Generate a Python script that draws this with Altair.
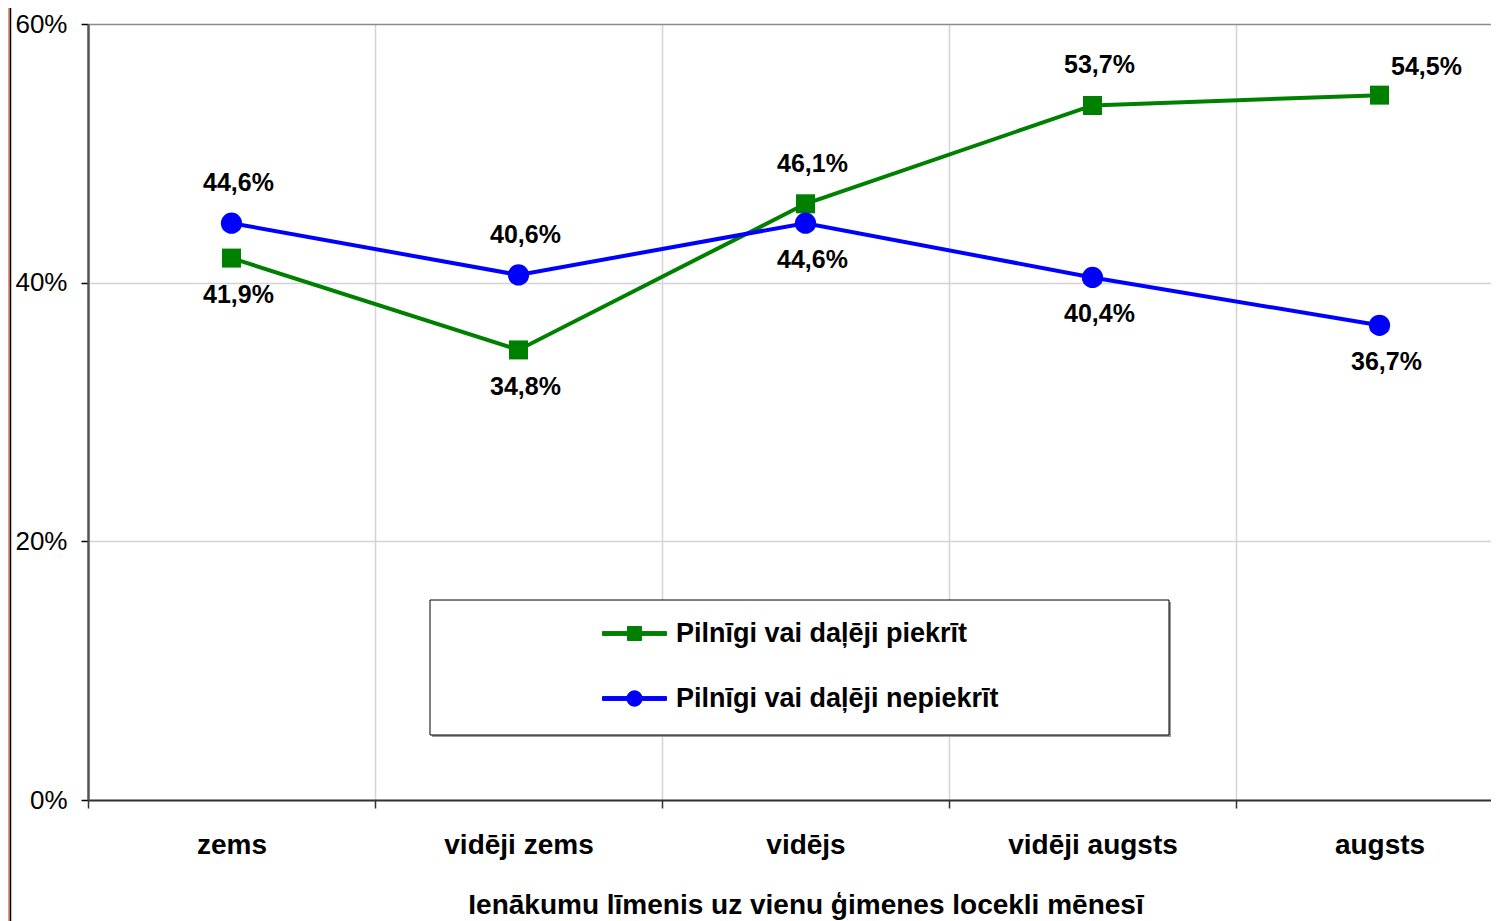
import math
import altair as alt
import pandas as pd

# ---------------- data ----------------
categories = ["zems", "vidēji zems", "vidējs", "vidēji augsts", "augsts"]
series_names = ["Pilnīgi vai daļēji piekrīt", "Pilnīgi vai daļēji nepiekrīt"]
agree = [41.9, 34.8, 46.1, 53.7, 54.5]
disagree = [44.6, 40.6, 44.6, 40.4, 36.7]
agree_label_side = ["below", "below", "above", "above", "above right"]
disagree_label_side = ["above", "above", "below", "below", "below"]
y_ticks = [0, 20, 40, 60]
x_title = "Ienākumu līmenis uz vienu ģimenes locekli mēnesī"
series_colors = ["#008000", "#0000ff"]

rows = []
for name, vals, sides in [
    (series_names[0], agree, agree_label_side),
    (series_names[1], disagree, disagree_label_side),
]:
    for cat, v, sd in zip(categories, vals, sides):
        rows.append({"category": cat, "series": name, "value": v, "side": sd})
df = pd.DataFrame(rows)

FONT = "Liberation Sans"

# legend symbols: a line with the marker in its middle (unit-square paths)
bar_path = "M-1,-0.06L1,-0.06L1,0.06L-1,0.06Z"
sq_path = bar_path + "M-0.22,-0.22L0.22,-0.22L0.22,0.22L-0.22,0.22Z"
circle_pts = [(0.24 * math.cos(2 * math.pi * k / 24), 0.24 * math.sin(2 * math.pi * k / 24)) for k in range(24)]
ci_path = bar_path + "M" + "L".join(f"{px:.3f},{py:.3f}" for px, py in circle_pts) + "Z"


def make_legend():
    return alt.Legend(
        title=None, orient="none", legendX=514, legendY=577,
        padding=0, rowPadding=19, symbolOffset=0, labelOffset=9,
        symbolSize=4096, symbolStrokeWidth=1, symbolOpacity=1,
        labelFont=FONT, labelFontSize=27, labelFontWeight="bold", labelColor="black",
        labelLimit=700,
    )


x_enc = alt.X(
    "category:N",
    sort=categories,
    scale=alt.Scale(type="band", domain=categories, range=[0, 1435],
                    paddingInner=0, paddingOuter=0),
    axis=alt.Axis(
        title=x_title, tickBand="extent", labelAngle=0,
        labelFont=FONT, labelFontSize=28, labelFontWeight="bold", labelColor="black",
        labelPadding=23, tickSize=8, tickColor="#333333", tickWidth=1.5,
        domainColor="#333333", domainWidth=2,
        grid=True, gridColor="#d4d4d4", gridWidth=1.5,
        titleFont=FONT, titleFontSize=28, titleFontWeight="bold", titleColor="black",
        titlePadding=32,
    ),
)

y_enc = alt.Y(
    "value:Q",
    scale=alt.Scale(domain=[0, 60], nice=False, zero=True),
    axis=alt.Axis(
        title=None, values=y_ticks, labelExpr="datum.value + '%'",
        labelFont=FONT, labelFontSize=26, labelColor="black", labelPadding=14,
        tickSize=7, tickColor="black", tickWidth=1.5,
        domainColor="#555555", domainWidth=2.5,
        grid=True,
        gridColor={"condition": {"test": "datum.value >= 59", "value": "#8c8c8c"}, "value": "#d4d4d4"},
        gridWidth=1.5,
    ),
)

base = alt.Chart(df)

lines = base.mark_line(strokeWidth=4).encode(
    x=x_enc, y=y_enc,
    stroke=alt.Stroke("series:N", scale=alt.Scale(domain=series_names, range=series_colors), legend=make_legend()),
    detail="series:N",
)

fill_enc = alt.Fill("series:N", scale=alt.Scale(domain=series_names, range=series_colors), legend=None)

squares = base.transform_filter(
    alt.datum.series == series_names[0]
).mark_square(size=361, opacity=1).encode(x=x_enc, y=y_enc, fill=fill_enc)

circles = base.transform_filter(
    alt.datum.series == series_names[1]
).mark_circle(size=452, opacity=1).encode(x=x_enc, y=y_enc, fill=fill_enc)

# invisible layer whose colour/shape scales give the legend its symbols
legend_layer = base.mark_point(filled=True, opacity=0).encode(
    x=x_enc, y=y_enc,
    color=alt.Color("series:N", scale=alt.Scale(domain=series_names, range=series_colors), legend=make_legend()),
    shape=alt.Shape("series:N", scale=alt.Scale(domain=series_names, range=[sq_path, ci_path]), legend=make_legend()),
)

label_text = "replace(format(datum.value, '.1f'), '.', ',') + '%'"


def value_labels(side, dx, dy):
    return base.transform_filter(alt.datum.side == side).transform_calculate(
        lbl=label_text
    ).mark_text(font=FONT, fontSize=25, fontWeight="bold", color="black",
                dy=dy, dx=dx, align="center", baseline="middle").encode(
        x=x_enc, y=y_enc, text="lbl:N"
    )


labels_above = value_labels("above", 7, -40)
labels_below = value_labels("below", 7, 37)
labels_above_right = value_labels("above right", 47, -28)

# decorations: legend frame (with shadow) and page edge strip
deco = alt.Chart(alt.Data(values=[{}]))
legend_shadow = deco.mark_rect(fill="#9a9a9a").encode(
    x=alt.value(344), x2=alt.value(1083), y=alt.value(578), y2=alt.value(713)
)
legend_box = deco.mark_rect(fill="white", stroke="black", strokeWidth=1).encode(
    x=alt.value(342), x2=alt.value(1081), y=alt.value(576), y2=alt.value(711)
)
edge_strip = deco.mark_rect(fill="#E9977A").encode(
    x=alt.value(-80), x2=alt.value(-78), y=alt.value(-16), y2=alt.value(897)
)
edge_line = deco.mark_rule(color="black", strokeWidth=1.5).encode(
    x=alt.value(-77.5), y=alt.value(-16), y2=alt.value(897)
)

chart = alt.layer(
    edge_strip, edge_line, legend_shadow, legend_box,
    lines, squares, circles, labels_above, labels_below, labels_above_right, legend_layer,
).properties(
    width=1403,
    height=776,
    autosize=alt.AutoSizeParams(type="none"),
    padding={"left": 80, "top": 16, "right": 0, "bottom": 121},
).configure_view(stroke=None)

chart.save("out.html", embed_options={"renderer": "svg", "actions": False})
